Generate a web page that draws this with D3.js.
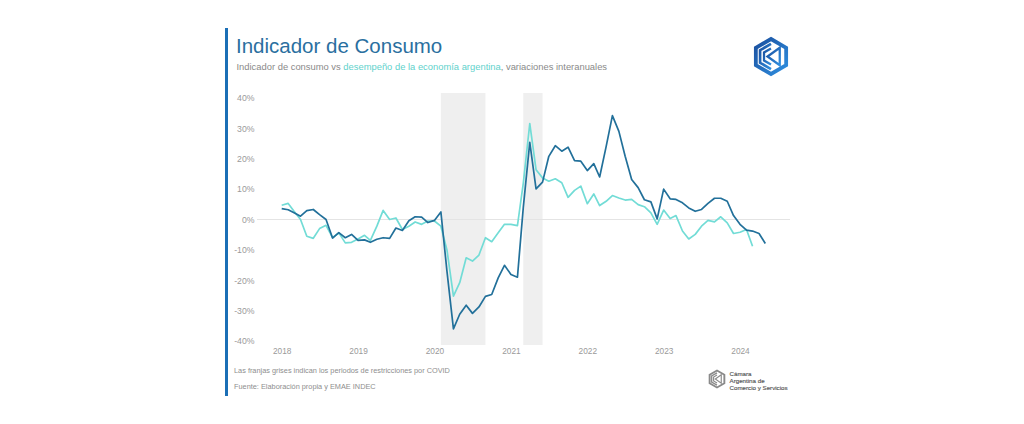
<!DOCTYPE html>
<html>
<head>
<meta charset="utf-8">
<script src="https://cdn.jsdelivr.net/npm/d3@7"></script>
<style>
  html, body { margin: 0; padding: 0; background: #fff; }
  svg { display: block; font-family: "Liberation Sans", Arial, Helvetica, sans-serif; }
</style>
</head>
<body>
<svg id="chart" width="1024" height="424"></svg>
<script>
// ---------------- DATA ----------------
const startMonth = "2018-01";
// Indicador de consumo (variación interanual, %)
const consumo = [
  3.6, 3.2, 2.2, 1.1, 2.9, 3.3, 1.6, 0.0, -6.1, -4.3, -6.0, -4.9,
  -6.9, -6.7, -7.5, -6.5, -6.0, -6.2, -2.8, -3.6, -0.4, 0.9, 0.8, -1.0,
  -0.3, 2.5, -17.0, -36.0, -31.2, -28.2, -30.9, -28.8, -25.3, -24.7, -19.2, -15.1,
  -18.1, -19.0, 4.0, 25.4, 10.1, 12.3, 20.8, 24.3, 22.5, 23.8, 19.4, 19.2,
  16.1, 18.4, 14.0, 24.0, 34.2, 29.0, 20.8, 13.2, 10.5, 6.5, 5.8, 0.2,
  10.0, 6.8, 6.6, 5.5, 3.8, 2.7, 3.3, 5.3, 7.0, 7.0, 6.0, 1.3,
  -1.6, -3.5, -3.8, -4.6, -7.9
];
// Desempeño de la economía argentina (EMAE, variación interanual, %)
const emae = [
  4.7, 5.3, 2.7, 0.0, -5.5, -6.2, -3.0, -1.9, -6.0, -4.4, -7.7, -7.5,
  -6.4, -5.2, -6.9, -2.2, 3.0, 0.0, 0.5, -3.3, -2.2, -0.8, -1.6, -0.5,
  -0.5, -2.2, -10.0, -25.2, -20.8, -12.6, -13.7, -11.7, -6.0, -7.3, -4.4, -1.6,
  -1.6, -2.0, 12.0, 31.6, 16.4, 13.7, 12.6, 13.4, 12.1, 7.3, 9.6, 11.0,
  5.2, 8.4, 4.6, 6.0, 7.9, 7.1, 6.4, 6.6, 4.9, 4.2, 2.2, -1.6,
  3.1, 0.3, 1.3, -3.8, -6.4, -4.9, -2.2, -0.3, -0.8, 0.9, -1.1, -4.6,
  -4.2, -3.3, -8.8
];
// Periodos de restricciones por COVID (franjas grises)
const covidStart = ["2020-02", "2021-03"];
const covidEnd   = ["2020-09", "2021-06"];
const yTicks = [-40, -30, -20, -10, 0, 10, 20, 30, 40];
const xYears = [2018, 2019, 2020, 2021, 2022, 2023, 2024];

const titleText = "Indicador de Consumo";
const subParts = ["Indicador de consumo vs ", "desempeño de la economía argentina", ", variaciones interanuales"];
const noteText = "Las franjas grises indican los periodos de restricciones por COVID";
const sourceText = "Fuente: Elaboración propia y EMAE INDEC";
const orgLines = ["Cámara", "Argentina de", "Comercio y Servicios"];

// ---------------- CHART ----------------
const parseM = d3.timeParse("%Y-%m");
const t0 = parseM(startMonth);
const svg = d3.select("#chart");

const DARK = "#22709a";
const LIGHT = "#72dcd6";

const x = d3.scaleTime()
  .domain([new Date(2018, 0, 1), new Date(2024, 0, 1)])
  .range([281.7, 740]);
const y = d3.scaleLinear().domain([-40, 40]).range([341, 98]);

// left accent bar
svg.append("rect").attr("x", 225).attr("y", 28).attr("width", 3).attr("height", 368).attr("fill", "#1b6fb6");

// title + subtitle
svg.append("text").attr("x", 236).attr("y", 53)
  .attr("font-size", 20.5).attr("fill", "#2a6fa0").text(titleText);
const sub = svg.append("text").attr("x", 236.5).attr("y", 70.2).attr("font-size", 9.4).attr("fill", "#8a8a8a");
sub.append("tspan").text(subParts[0]);
sub.append("tspan").attr("fill", "#5fd2cc").text(subParts[1]);
sub.append("tspan").text(subParts[2]);

// covid shading
svg.append("g").selectAll("rect").data(covidStart.map((s, i) => [parseM(s), parseM(covidEnd[i])]))
  .join("rect")
  .attr("x", d => x(d[0])).attr("width", d => x(d[1]) - x(d[0]))
  .attr("y", 93).attr("height", 252)
  .attr("fill", "#efefef");

// zero line
svg.append("line").attr("x1", 257).attr("x2", 790).attr("y1", y(0)).attr("y2", y(0))
  .attr("stroke", "#e4e4e4").attr("stroke-width", 1);

// y axis labels
const yAxis = d3.axisLeft(y).tickValues(yTicks).tickSize(0).tickPadding(0)
  .tickFormat(d => d + "%");
const gy = svg.append("g").attr("transform", "translate(254.5,0)").call(yAxis);
gy.select(".domain").remove();
gy.selectAll("text").attr("font-size", 8.7).attr("fill", "#9a9a9a")
  .attr("font-family", "Liberation Sans, Arial, sans-serif");

// x axis labels
const xAxis = d3.axisBottom(x).tickValues(xYears.map(yy => new Date(yy, 0, 1))).tickSize(0).tickPadding(0)
  .tickFormat(d3.timeFormat("%Y"));
const gx = svg.append("g").attr("transform", "translate(0,348)").call(xAxis);
gx.select(".domain").remove();
gx.selectAll("text").attr("font-size", 8.3).attr("fill", "#9a9a9a")
  .attr("font-family", "Liberation Sans, Arial, sans-serif");

// lines
const line = d3.line().x((d, i) => x(d3.timeMonth.offset(t0, i))).y(d => y(d)).curve(d3.curveLinear);
svg.append("path").datum(emae).attr("d", (d) => line(d))
  .attr("fill", "none").attr("stroke", LIGHT).attr("stroke-width", 1.7).attr("stroke-linejoin", "round");
svg.append("path").datum(consumo).attr("d", (d) => line(d))
  .attr("fill", "none").attr("stroke", DARK).attr("stroke-width", 1.7).attr("stroke-linejoin", "round");

// footnotes
svg.append("text").attr("x", 234).attr("y", 372.6).attr("font-size", 7.35).attr("fill", "#8e8e8e").text(noteText);
svg.append("text").attr("x", 234).attr("y", 389.2).attr("font-size", 7.35).attr("fill", "#8e8e8e").text(sourceText);

// ---------- logos ----------
function hexPts(cx, cy, r) {
  return d3.range(6).map(k => {
    const a = (-90 + 60 * k) * Math.PI / 180;
    return [cx + r * Math.cos(a), cy + r * Math.sin(a)];
  });
}
const defs = svg.append("defs");
const grad = defs.append("linearGradient").attr("id", "lg").attr("x1", "0").attr("x2", "1").attr("y1", "0").attr("y2", "1");
grad.append("stop").attr("offset", "0").attr("stop-color", "#1a4f9e");
grad.append("stop").attr("offset", "1").attr("stop-color", "#2f8fe0");

function drawLogo(cx, cy, r, col, w) {
  const g = svg.append("g");
  const o = hexPts(cx, cy, r);
  // outer hexagon
  g.append("path").attr("d", d3.line()(o) + "Z")
    .attr("fill", "none").attr("stroke", col).attr("stroke-width", w).attr("stroke-linejoin", "miter");
  // nested C stripes on the left
  [0.72, 0.46].forEach((k, j) => {
    const m = hexPts(cx, cy, r * k);
    g.append("path").attr("d", d3.line()([m[0], m[5], m[4], m[3]]))
      .attr("fill", "none").attr("stroke", col).attr("stroke-width", w * (j === 0 ? 0.7 : 0.6))
      .attr("stroke-linejoin", "miter");
  });
  // inner left-pointing triangle
  g.append("path").attr("d", d3.line()([[cx + r * 0.5, cy - r * 0.5], [cx - r * 0.2, cy], [cx + r * 0.5, cy + r * 0.5]]) + "Z")
    .attr("fill", "none").attr("stroke", col).attr("stroke-width", w * 0.6).attr("stroke-linejoin", "miter");
}
drawLogo(771, 56.5, 17.5, "url(#lg)", 3.8);
drawLogo(717, 379, 8.5, "#8a8a8a", 1.9);

svg.append("text").attr("x", 729.5).attr("y", 375.5).attr("font-size", 6.2).attr("fill", "#555")
  .attr("stroke", "#555").attr("stroke-width", 0.15)
  .selectAll("tspan").data(orgLines).join("tspan")
  .attr("x", 729.5).attr("dy", (d, i) => i === 0 ? 0 : 7).text(d => d);
</script>
</body>
</html>
